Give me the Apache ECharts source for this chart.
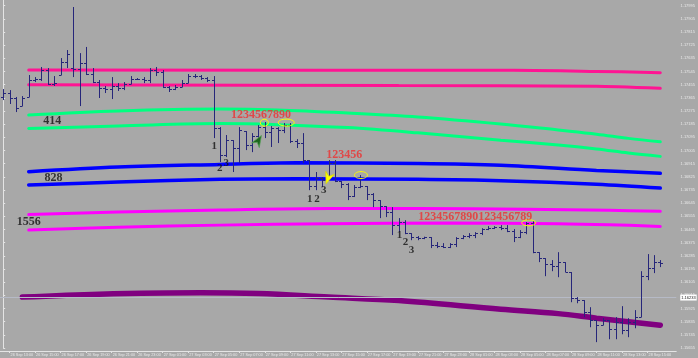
<!DOCTYPE html>
<html><head><meta charset="utf-8">
<script src="https://cdn.jsdelivr.net/npm/echarts@6/dist/echarts.min.js"></script>
<style>html,body{margin:0;padding:0;background:#a8a8a8}#c{width:698px;height:358px}</style>
</head><body><div id="c"></div>
<script>
// ---- categories: 30-minute bars from 26 Sep 12:30 ----
const categories = [];
for (let i = 0; i < 106; i++) {
  const m = 12 * 60 + 30 + 30 * i;
  const day = 26 + Math.floor(m / 1440);
  const mm = m % 1440;
  categories.push(day + ' Sep ' + String(Math.floor(mm / 60)).padStart(2, '0') + ':' + String(mm % 60).padStart(2, '0'));
}

// ---- OHLC values ----
const opens = [
1.17371,1.17398,1.17364,1.17309,1.17371,1.17487,1.17494,1.17555,1.17459,1.17521,
1.17610,1.17569,1.17562,1.17603,1.17528,1.17473,1.17432,1.17425,1.17446,1.17432,
1.17459,1.17494,1.17494,1.17487,1.17555,1.17542,1.17439,1.17425,1.17439,1.17466,
1.17514,1.17514,1.17500,1.17487,1.17158,1.16974,1.17076,1.17022,1.17138,1.17042,
1.17104,1.17165,1.17131,1.17158,1.17145,1.17179,1.17070,1.17056,1.16940,1.16762,
1.16816,1.16816,1.16919,1.16796,1.16775,1.16693,1.16755,1.16762,1.16707,1.16666,
1.16625,1.16584,1.16495,1.16516,1.16440,1.16413,1.16406,1.16413,1.16358,1.16351,
1.16345,1.16365,1.16406,1.16420,1.16427,1.16440,1.16468,1.16474,1.16481,1.16474,
1.16454,1.16413,1.16447,1.16509,1.16310,1.16269,1.16228,1.16215,1.16242,1.16174,
1.15996,1.15982,1.15900,1.15845,1.15811,1.15845,1.15784,1.15832,1.15777,1.15832,
1.15866,1.16146,1.16201,1.16242];
const highs = [
1.17425,1.17418,1.17371,1.17377,1.17521,1.17507,1.17576,1.17569,1.17514,1.17637,
1.17692,1.17986,1.17671,1.17713,1.17569,1.17487,1.17446,1.17507,1.17466,1.17473,
1.17514,1.17500,1.17507,1.17569,1.17576,1.17555,1.17446,1.17453,1.17487,1.17528,
1.17528,1.17521,1.17507,1.17514,1.17165,1.17111,1.17076,1.17165,1.17138,1.17124,
1.17179,1.17200,1.17172,1.17165,1.17193,1.17193,1.17083,1.17124,1.16940,1.16858,
1.16823,1.16940,1.16940,1.16796,1.16782,1.16769,1.16837,1.16762,1.16714,1.16666,
1.16625,1.16618,1.16543,1.16529,1.16440,1.16420,1.16416,1.16413,1.16379,1.16372,
1.16372,1.16413,1.16427,1.16440,1.16447,1.16474,1.16488,1.16488,1.16495,1.16495,
1.16468,1.16461,1.16516,1.16522,1.16310,1.16269,1.16256,1.16310,1.16242,1.16174,
1.16003,1.15982,1.15934,1.15845,1.15859,1.15845,1.15866,1.15941,1.15859,1.15914,
1.16180,1.16297,1.16290,1.16256];
const lows = [
1.17350,1.17323,1.17268,1.17309,1.17371,1.17473,1.17480,1.17453,1.17446,1.17521,
1.17569,1.17507,1.17309,1.17521,1.17466,1.17364,1.17398,1.17357,1.17412,1.17418,
1.17459,1.17487,1.17466,1.17466,1.17514,1.17432,1.17405,1.17418,1.17439,1.17466,
1.17500,1.17487,1.17473,1.17090,1.16926,1.16960,1.16858,1.16919,1.17008,1.16994,
1.17056,1.17090,1.17029,1.17056,1.17124,1.17056,1.17022,1.16919,1.16734,1.16734,
1.16755,1.16803,1.16789,1.16748,1.16666,1.16687,1.16748,1.16666,1.16618,1.16543,
1.16550,1.16427,1.16447,1.16433,1.16392,1.16392,1.16399,1.16338,1.16338,1.16338,
1.16338,1.16345,1.16399,1.16406,1.16406,1.16427,1.16461,1.16468,1.16461,1.16447,
1.16379,1.16406,1.16433,1.16303,1.16242,1.16146,1.16180,1.16139,1.16174,1.15968,
1.15961,1.15866,1.15797,1.15695,1.15811,1.15715,1.15715,1.15749,1.15729,1.15790,
1.15866,1.16119,1.16167,1.16208];
const closes = [
1.17398,1.17364,1.17295,1.17364,1.17487,1.17494,1.17555,1.17459,1.17466,1.17610,
1.17665,1.17562,1.17603,1.17528,1.17473,1.17432,1.17425,1.17446,1.17432,1.17459,
1.17494,1.17494,1.17487,1.17555,1.17542,1.17439,1.17425,1.17439,1.17466,1.17514,
1.17514,1.17500,1.17487,1.17158,1.16974,1.17076,1.17022,1.17145,1.17042,1.17104,
1.17165,1.17131,1.17158,1.17145,1.17179,1.17070,1.17056,1.16940,1.16762,1.16816,
1.16803,1.16919,1.16796,1.16775,1.16693,1.16755,1.16762,1.16707,1.16666,1.16625,
1.16584,1.16495,1.16516,1.16440,1.16413,1.16406,1.16413,1.16358,1.16351,1.16345,
1.16365,1.16406,1.16420,1.16427,1.16440,1.16468,1.16474,1.16481,1.16474,1.16454,
1.16413,1.16447,1.16509,1.16310,1.16269,1.16228,1.16215,1.16242,1.16174,1.15996,
1.15982,1.15900,1.15845,1.15811,1.15845,1.15784,1.15832,1.15777,1.15832,1.15866,
1.16146,1.16201,1.16242,1.16233];
const currentPrice = 1.16233;

// ---- indicator lines: [bar index] and [price] ----
const pinkUpperIdx = [4, 80, 93, 103];
const pinkUpper = [1.17555, 1.17553, 1.17546, 1.17537];
const pinkLowerIdx = [4, 62, 93, 103];
const pinkLower = [1.17455, 1.17449, 1.17444, 1.17430];
const greenIdx = [4, 18, 34, 43, 54, 65, 78, 87, 93, 98, 103];
const greenUpper = [1.17247, 1.17275, 1.17288, 1.17282, 1.17261, 1.17234, 1.17186, 1.17145, 1.17117, 1.17088, 1.17065];
const greenLower = [1.17156, 1.17172, 1.17189, 1.17182, 1.17162, 1.17126, 1.17076, 1.17042, 1.17015, 1.16988, 1.16965];
const blueIdx = [4, 18, 34, 46, 65, 78, 93, 103];
const blueUpper = [1.16860, 1.16892, 1.16910, 1.16921, 1.16917, 1.16905, 1.16869, 1.16849];
const blueLower = [1.16769, 1.16789, 1.16808, 1.16812, 1.16808, 1.16799, 1.16775, 1.16748];
const magentaUpperIdx = [4, 18, 34, 51, 65, 82, 95, 103];
const magentaUpper = [1.16567, 1.16584, 1.16598, 1.16608, 1.16608, 1.16604, 1.16596, 1.16589];
const magentaLowerIdx = [4, 18, 34, 51, 70, 87, 95, 103];
const magentaLower = [1.16461, 1.16481, 1.16495, 1.16505, 1.16509, 1.16505, 1.16498, 1.16486];
const purpleIdx = [3, 15, 31, 40, 51, 62, 78, 87, 93, 103];
const purple = [1.16003, 1.16023, 1.16033, 1.16027, 1.16003, 1.15979, 1.15920, 1.15890, 1.15859, 1.15811];

// ---- annotations ----
const levelTexts = ['414', '828', '1556'];
const levelIdx = [7.7, 7.9, 4.0];
const levelPrices = [1.17206, 1.16816, 1.16516];
const countTexts = ['1234567890', '123456', '1234567890123456789'];
const countIdx = [40.4, 53.46, 74.0];
const countPrices = [1.17247, 1.16977, 1.16553];
const waveTexts = ['1', '2', '3', '1', '2', '3', '1', '2', '3'];
const waveIdx = [33.08, 33.94, 34.95, 48.07, 49.17, 50.26, 62.13, 63.06, 64.0];
const wavePrices = [1.17035, 1.16885, 1.16922, 1.16673, 1.16673, 1.16734, 1.16427, 1.16379, 1.16324];
const ellipseIdx = [40.93, 44.37, 56.08, 82.38];
const ellipsePrices = [1.17195, 1.17196, 1.16837, 1.16511];
const arrowIdx = [39.95, 50.96];
const arrowPrices = [1.17070, 1.16820];

// ---- styling (not data) ----
const ellipseSizes = [[8, 7], [16, 7], [13, 7], [14, 6]];
const arrowStyles = [
  { rotation: -0.55, fill: '#1d661d', stroke: '#5aa05a' },
  { rotation: Math.PI - 0.35, fill: '#ffff00', stroke: '#d8d800' }
];
const barColor = '#26267a';
const axisColor = '#e4e4e4';

const pairs = (xs, ys) => xs.map((x, i) => [x, ys[i]]);
const ohlc = opens.map((o, i) => [i, o, highs[i], lows[i], closes[i]]);

function isLabelSlot(idx, val) {
  return idx < 104 && val.endsWith(':00') && parseInt(val.slice(7, 9), 10) % 2 === 1;
}

function renderBar(params, api) {
  const k = api.value(0);
  const o = api.coord([k, api.value(1)]);
  const h = api.coord([k, api.value(2)]);
  const l = api.coord([k, api.value(3)]);
  const c = api.coord([k, api.value(4)]);
  const x = Math.round(o[0]) + 0.5;
  const st = { stroke: barColor, lineWidth: 1 };
  let yh = h[1], yl = l[1];
  if (yl - yh < 1) yl = yh + 1;
  const yo = Math.round(o[1]) + 0.5, yc = Math.round(c[1]) + 0.5;
  return { type: 'group', children: [
    { type: 'line', shape: { x1: x, y1: yh, x2: x, y2: yl }, style: st },
    { type: 'line', shape: { x1: x - 2.5, y1: yo, x2: x, y2: yo }, style: st },
    { type: 'line', shape: { x1: x, y1: yc, x2: x + 2.5, y2: yc }, style: st }
  ]};
}

function renderEllipse(params, api) {
  const p = api.coord([api.value(0), api.value(1)]);
  const s = ellipseSizes[params.dataIndex];
  return { type: 'ellipse', shape: { cx: p[0], cy: p[1], rx: s[0] / 2, ry: s[1] / 2 },
    style: { fill: 'none', stroke: '#ffff00', lineWidth: 1 } };
}

function renderArrow(params, api) {
  const p = api.coord([api.value(0), api.value(1)]);
  const s = arrowStyles[params.dataIndex];
  return { type: 'polygon', x: p[0], y: p[1], rotation: s.rotation,
    shape: { points: [[0, -6.5], [4.5, 5], [0, 1.5], [-4.5, 5]] },
    style: { fill: s.fill, stroke: s.stroke, lineWidth: 0.7 } };
}

function lineSeries(name, xs, ys, color, width) {
  return { name, type: 'line', xAxisIndex: 0, data: pairs(xs, ys), showSymbol: false, symbol: 'none',
    smooth: 0.35, lineStyle: { color, width, cap: 'round' }, z: 2, silent: true };
}

function textSeries(xs, ys, texts, color, size) {
  return { type: 'scatter', xAxisIndex: 1, data: pairs(xs, ys), symbolSize: 1, z: 10, silent: true,
    itemStyle: { color: 'transparent' },
    label: { show: true, position: 'inside', formatter: p => texts[p.dataIndex], color,
      fontFamily: 'Liberation Serif', fontWeight: 'bold', fontSize: size } };
}

const chart = echarts.init(document.getElementById('c'));
const purpleSeries = lineSeries('purple', purpleIdx, purple, '#800080', 5.5);
purpleSeries.markLine = {
  symbol: 'none', silent: true, animation: false,
  data: [{ yAxis: currentPrice }],
  lineStyle: { color: '#b6bac6', width: 1, type: 'solid' },
  label: { show: true, position: 'end', distance: 4, formatter: currentPrice.toFixed(5),
    backgroundColor: '#ffffff', color: '#222', fontSize: 4, padding: [1, 1] }
};

chart.setOption({
  animation: false,
  backgroundColor: '#a8a8a8',
  grid: { left: 0, right: 19.3, top: 0, bottom: 10 },
  xAxis: [
    { type: 'category', data: categories, boundaryGap: true, offset: 3,
      axisLine: { lineStyle: { color: axisColor, width: 1 } },
      axisTick: { show: true, alignWithLabel: true, interval: isLabelSlot, length: 2, lineStyle: { color: axisColor } },
      axisLabel: { interval: isLabelSlot, align: 'left', margin: 1.5, fontSize: 3.8, color: '#e8e8e8',
        fontFamily: 'Liberation Sans', padding: [0, 0, 0, 1] },
      splitLine: { show: false } },
    { type: 'value', min: -0.5, max: 105.5, show: false }
  ],
  yAxis: { type: 'value', position: 'right', min: 1.15655, max: 1.18034, interval: 0.0009, offset: 2.3,
    axisLine: { show: true, lineStyle: { color: axisColor } },
    axisTick: { show: true, length: 2, lineStyle: { color: axisColor } },
    axisLabel: { formatter: v => v.toFixed(5), fontSize: 4, color: '#e8e8e8', margin: 2,
      fontFamily: 'Liberation Sans', showMaxLabel: false },
    splitLine: { show: false } },
  series: [
    purpleSeries,
    lineSeries('pinkU', pinkUpperIdx, pinkUpper, '#ff1493', 3),
    lineSeries('pinkL', pinkLowerIdx, pinkLower, '#ff1493', 3),
    lineSeries('greenU', greenIdx, greenUpper, '#00ff80', 3),
    lineSeries('greenL', greenIdx, greenLower, '#00ff80', 3),
    lineSeries('blueU', blueIdx, blueUpper, '#0000ff', 3.5),
    lineSeries('blueL', blueIdx, blueLower, '#0000ff', 3.5),
    lineSeries('magU', magentaUpperIdx, magentaUpper, '#ff00ff', 3),
    lineSeries('magL', magentaLowerIdx, magentaLower, '#ff00ff', 3),
    { type: 'custom', xAxisIndex: 0, renderItem: renderBar, data: ohlc, z: 5, silent: true,
      encode: { x: 0, y: [1, 2, 3, 4] } },
    { type: 'custom', xAxisIndex: 1, renderItem: renderEllipse, data: pairs(ellipseIdx, ellipsePrices), z: 8, silent: true,
      encode: { x: 0, y: 1 } },
    { type: 'custom', xAxisIndex: 1, renderItem: renderArrow, data: pairs(arrowIdx, arrowPrices), z: 8, silent: true,
      encode: { x: 0, y: 1 } },
    textSeries(levelIdx, levelPrices, levelTexts, '#111111', 12),
    textSeries(countIdx, countPrices, countTexts, '#ee3030', 12),
    textSeries(waveIdx, wavePrices, waveTexts, '#111111', 11)
  ]
});
</script>
</body></html>
